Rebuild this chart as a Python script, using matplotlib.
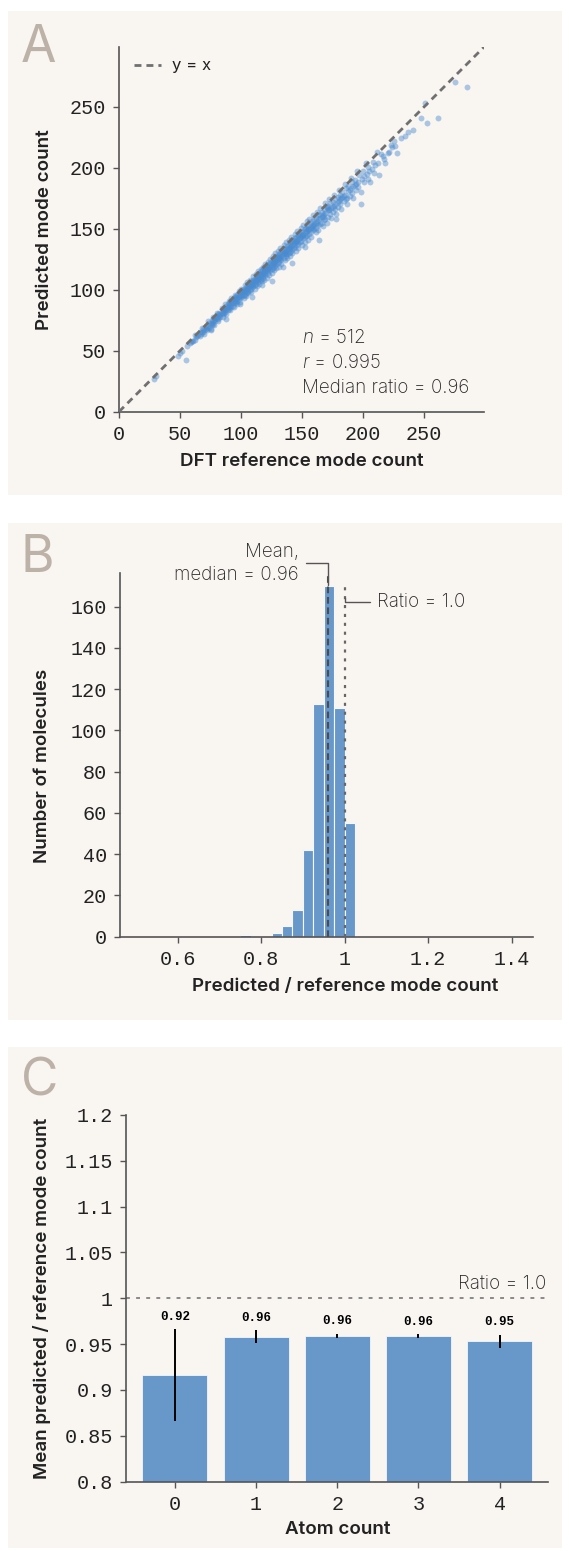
import matplotlib
matplotlib.use("Agg")
import matplotlib.pyplot as plt
from matplotlib.patches import Rectangle
from matplotlib.lines import Line2D

# ---------------------------------------------------------------- data
# Panel A: DFT reference vs predicted vibrational mode counts (one pair per molecule)
ref_modes = (
    [29, 30, 48, 50, 52, 55, 56, 58, 59, 60, 61, 62, 62, 63, 64]
    + [65, 66, 66, 67, 68, 68, 69, 69, 70, 70, 71, 71, 72, 72, 73, 73, 74, 74]
    + [75, 75, 75, 76, 76, 76, 77, 77, 77, 78, 78, 78, 79, 79, 79, 80, 80, 80,
       81, 81, 81, 82, 82, 82, 83, 83, 84, 84]
    + [85, 85, 85, 85, 86, 86, 86, 87, 87, 87, 87, 88, 88, 88, 89, 89, 89, 89,
       90, 90, 90, 90, 91, 91, 91, 92, 92, 92, 92, 93, 93, 93, 94, 94, 94]
    + [95] * 4 + [96] * 4 + [97] * 4 + [98] * 4 + [99] * 4
    + [100] * 4 + [101] * 4 + [102] * 4 + [103] * 4 + [104] * 4
    + [105] * 5 + [106] * 4 + [107] * 5 + [108] * 4 + [109] * 5
    + [110] * 5 + [111] * 4 + [112] * 5 + [113] * 4 + [114] * 5
    + [115] * 5 + [116] * 5 + [117] * 5 + [118] * 5 + [119] * 5
    + [120] * 5 + [121] * 5 + [122] * 5 + [123] * 4 + [124] * 4
    + [125] * 5 + [126] * 5 + [127] * 5 + [128] * 5 + [129] * 5
    + [130] * 5 + [131] * 5 + [132] * 5 + [133] * 4 + [134] * 3
    + [135] * 5 + [136] * 4 + [137] * 5 + [138] * 4 + [139] * 5
    + [140] * 5 + [141] * 4 + [142] * 5 + [143] * 4 + [144] * 4
    + [145] * 4 + [146] * 4 + [147] * 4 + [148] * 4 + [149] * 4
    + [150] * 4 + [151] * 4 + [152] * 4 + [153] * 4 + [154] * 4
    + [155] * 4 + [156] * 3 + [157] * 4 + [158] * 3 + [159] * 4
    + [160] * 3 + [161] * 4 + [162] * 3 + [163] * 3 + [164] * 3
    + [165] * 3 + [166] * 3 + [167] * 3 + [168] * 3 + [169] * 3
    + [170] * 3 + [171] * 3 + [172] * 3 + [173] * 2 + [174] * 2
    + [175] * 3 + [176] * 2 + [177] * 3 + [178] * 2 + [179] * 3
    + [180] * 2 + [181] * 3 + [182] * 2 + [183] * 2 + [184] * 2
    + [185, 185, 186, 186, 187, 187, 188, 188, 189, 189,
       190, 190, 191, 191, 192, 192, 193, 193, 194, 194]
    + [195, 196, 196, 197, 198, 198, 199, 200, 201, 201, 202, 203, 204, 204]
    + [205, 206, 207, 208, 209, 210, 211, 212, 213]
    + [215, 216, 217, 218, 220, 221, 223, 224]
    + [225, 226, 228, 231, 234, 237, 241, 247, 251, 252, 261, 275, 285]
)
pred_modes = (
    [27, 29, 46, 48, 50, 42, 54, 56, 57, 58, 58, 59, 63, 61, 62]
    + [63, 65, 62, 64, 69, 65, 65, 68, 67, 64, 68, 70, 67, 69, 74, 70, 69, 73]
    + [68, 67, 72, 75, 71, 73, 78, 74, 72, 77, 75, 71, 76, 78, 74, 77, 81, 78,
       76, 80, 74, 78, 79, 81, 78, 80, 85, 81]
    + [80, 84, 82, 78, 83, 85, 81, 84, 88, 83, 82, 87, 80, 76, 86, 88, 83, 85,
       91, 87, 84, 89, 88, 83, 87, 91, 86, 89, 93, 89, 87, 92, 86, 93, 90]
    + [94, 89, 91, 96, 92, 90, 95, 93, 88, 93, 96, 91, 94, 99, 95, 92, 98, 90, 88, 95]
    + [99, 94, 96, 101, 97, 95, 100, 98, 93, 98, 101, 96, 99, 104, 100, 96,
       102, 95, 97, 100]
    + [103, 98, 101, 106, 101, 99, 105, 102, 97, 103, 105, 100, 102, 108,
       104, 101, 106, 98, 94, 105, 107, 102, 104]
    + [111, 106, 103, 108, 105, 101, 107, 109, 104, 108, 113, 107, 105, 110,
       103, 111, 109, 112, 107, 110, 115, 109, 106]
    + [113, 111, 105, 110, 114, 109, 112, 117, 111, 108, 115, 107, 104, 113, 116,
       110, 113, 119, 114, 111, 117, 114, 108, 115, 118]
    + [112, 115, 121, 116, 113, 119, 110, 116, 117, 120, 114, 117, 123, 118, 115,
       121, 118, 112, 119, 122, 116, 119, 125]
    + [120, 117, 123, 114, 107, 121, 124, 118, 122, 128, 122, 119, 125, 123, 116,
       123, 126, 120, 124, 130, 124, 121, 127, 118, 128]
    + [125, 128, 122, 126, 132, 126, 123, 129, 127, 119, 127, 130, 124, 126, 134,
       128, 125, 131, 121, 119, 129, 132]
    + [130, 137, 129, 126, 133, 131, 124, 130, 134, 128, 132, 139, 131, 129,
       136, 126, 129, 133, 137, 130, 134, 141, 133]
    + [131, 138, 135, 128, 134, 139, 132, 136, 143, 137, 133, 140, 130, 122,
       138, 141, 134, 137, 146, 139, 135, 142]
    + [139, 132, 140, 143, 137, 140, 148, 141, 138, 145, 134, 144, 142, 146, 139, 143,
       151, 143, 140, 147]
    + [144, 137, 145, 148, 142, 145, 153, 146, 143, 150, 139, 135, 147, 151, 144, 148,
       156, 148, 145, 152]
    + [149, 141, 150, 153, 146, 150, 158, 151, 147, 155, 143, 152, 151, 156,
       149, 153, 161, 152]
    + [150, 158, 154, 147, 155, 159, 151, 156, 164, 155, 153, 161, 149, 141, 158, 162]
    + [154, 159, 167, 160, 155, 164, 161, 152, 160, 166, 157, 162, 171, 163, 158]
    + [168, 155, 167, 165, 169, 160, 165, 174, 166, 162, 171, 167, 159]
    + [168, 172, 164, 169, 178, 170, 166, 174, 162, 158, 172, 176, 168]
    + [173, 182, 174, 170, 178, 175, 166, 176, 180, 173, 177]
    + [187, 178, 174, 183, 170, 175, 181, 185, 177, 182,
       192, 183, 179, 188, 185, 175, 186, 190, 182, 187]
    + [197, 188, 184, 194, 180, 170, 191, 197, 188, 193, 204, 195, 191, 201]
    + [197, 188, 199, 205, 196, 202, 213, 204, 194]
    + [211, 210, 207, 204, 212, 213, 219, 217]
    + [222, 218, 212, 224, 226, 229, 231, 241, 253, 237, 241, 270, 266]
)
pearson_r = 0.995
median_ratio = 0.96

# Panel B: histogram of predicted / reference ratios
ratio_bin_edges = [0.75, 0.775, 0.8, 0.825, 0.85, 0.875, 0.9, 0.925,
                   0.95, 0.975, 1.0, 1.025]
ratio_counts = [1, 0, 0, 2, 5, 13, 42, 113, 170, 111, 55]
ratio_mean = 0.96

# Panel C: mean ratio by atom count, with error bars
atom_counts = [0, 1, 2, 3, 4]
mean_ratio = [0.916, 0.958, 0.959, 0.959, 0.953]
ratio_err = [0.050, 0.007, 0.0025, 0.002, 0.0073]

# ---------------------------------------------------------------- style
SANS = ["Inter", "DejaVu Sans"]
MONO = ["Liberation Mono", "DejaVu Sans Mono"]
PANEL_BG = "#f9f5f1"
LETTER = "#bdb2a7"
BLUE = "#6897ca"
DOT = "#4a8bd0"
SPINE = "#555555"
INK = "#222222"

plt.rcParams.update({
    "font.family": SANS,
    "mathtext.fontset": "custom",
    "mathtext.it": "Inter:italic:light",
    "mathtext.rm": "Inter:light",
    "axes.edgecolor": SPINE,
    "axes.linewidth": 1.2,
    "xtick.color": SPINE,
    "ytick.color": SPINE,
    "xtick.labelcolor": INK,
    "ytick.labelcolor": INK,
    "xtick.major.size": 4.5,
    "ytick.major.size": 4.5,
    "xtick.major.width": 1.0,
    "ytick.major.width": 1.0,
    "xtick.major.pad": 5,
    "ytick.major.pad": 5,
})

W, H = 570, 1551
fig = plt.figure(figsize=(W / 100, H / 100), dpi=100, facecolor="white")


def box(x0, y0, x1, y1):
    """Figure-fraction rectangle from pixel corners (top-left origin)."""
    return [x0 / W, 1 - y1 / H, (x1 - x0) / W, (y1 - y0) / H]


for top, bottom in [(11, 495), (523, 1020), (1047, 1548)]:
    fig.patches.append(Rectangle((8 / W, 1 - bottom / H), 554 / W, (bottom - top) / H,
                                 transform=fig.transFigure, facecolor=PANEL_BG,
                                 edgecolor="none", zorder=-5))

for letter, px, py in [("A", 21, 62), ("B", 21, 572), ("C", 21, 1096)]:
    fig.text(px / W, 1 - py / H, letter, fontsize=37, color=LETTER,
             family=SANS, fontweight="normal", ha="left", va="baseline", zorder=-4)


def style_axes(ax):
    ax.set_facecolor("none")
    for s in ("top", "right"):
        ax.spines[s].set_visible(False)
    for lab in ax.get_xticklabels() + ax.get_yticklabels():
        lab.set_family(MONO)
        lab.set_fontsize(14.5)


label_kw = dict(fontsize=13.5, fontweight="semibold", color=INK, family=SANS)
note_kw = dict(fontsize=13.5, fontweight="light", color="#262626", family=SANS)

# ---------------------------------------------------------------- panel A
axA = fig.add_axes(box(119, 47, 484, 411.7))
lim = 299
axA.plot([0, lim], [0, lim], color="#707070", lw=2.0, dashes=(2.5, 1.8), zorder=3)
axA.scatter(ref_modes, pred_modes, s=18, color=DOT, alpha=0.45, linewidths=0, zorder=2)
axA.set_xlim(0, lim)
axA.set_ylim(0, lim)
axA.set_xticks([0, 50, 100, 150, 200, 250])
axA.set_yticks([0, 50, 100, 150, 200, 250])
style_axes(axA)
axA.set_xlabel("DFT reference mode count", **label_kw)
axA.set_ylabel("Predicted mode count", **label_kw)
axA.xaxis.label.set_va("center")
axA.yaxis.label.set_va("center")
axA.xaxis.set_label_coords(0.5, (411.7 - 462) / 364.7)
axA.yaxis.set_label_coords((45 - 119) / 365, 0.5)
handle = Line2D([], [], color="#707070", lw=2.0, dashes=(2.5, 1.8))
leg = axA.legend([handle], ["y = x"], loc="upper left", frameon=False,
                 bbox_to_anchor=(0.0, 1.01), handlelength=1.6, handletextpad=0.7,
                 prop={"family": SANS, "size": 12})
for t in leg.get_texts():
    t.set_color(INK)
n_pts = len(ref_modes)
stats_lines = [f"$n$ = {n_pts}", f"$r$ = {pearson_r:.3f}", f"Median ratio = {median_ratio:.2f}"]
for i, line in enumerate(stats_lines):
    axA.text(0.502, (411.7 - (337.7 + 25 * i)) / 364.7, line, transform=axA.transAxes,
             ha="left", va="center", **note_kw)

# ---------------------------------------------------------------- panel B
axB = fig.add_axes(box(120, 572.7, 533, 936.7))
widths = [b - a for a, b in zip(ratio_bin_edges[:-1], ratio_bin_edges[1:])]
axB.bar(ratio_bin_edges[:-1], ratio_counts, width=widths, align="edge", color=BLUE,
        edgecolor="#f4f7fb", linewidth=0.8, zorder=2)
axB.set_xlim(0.462, 1.451)
axB.set_ylim(0, 176.5)
axB.axvline(ratio_mean, color="#4d4d4d", lw=1.5, dashes=(3.2, 1.8), zorder=3)
axB.axvline(1.0, ymax=0.971, color="#666666", lw=1.6, dashes=(1.4, 2.6), zorder=3)
axB.set_xticks([0.6, 0.8, 1.0, 1.2, 1.4])
axB.set_xticklabels(["0.6", "0.8", "1", "1.2", "1.4"])
axB.set_yticks(range(0, 161, 20))
style_axes(axB)
axB.set_xlabel("Predicted / reference mode count", **label_kw)
axB.set_ylabel("Number of molecules", **label_kw)
axB.xaxis.label.set_va("center")
axB.yaxis.label.set_va("center")
axB.xaxis.set_label_coords((345 - 120) / 413, (936.7 - 986.7) / 364)
axB.yaxis.set_label_coords((43 - 120) / 413, (936.7 - 766) / 364)
conn = dict(arrowstyle="-", color="#555555", lw=1.0, shrinkA=3, shrinkB=0,
            connectionstyle="angle,angleA=0,angleB=90,rad=0")
axB.annotate("Mean,\nmedian = 0.96", xy=(ratio_mean, max(ratio_counts) + 0.5),
             xytext=(0.89, 173.0), textcoords="data", ha="right", va="baseline",
             multialignment="right", linespacing=1.35, arrowprops=conn, **note_kw)
axB.annotate("Ratio = 1.0", xy=(1.0, 164.2), xytext=(1.078, 162.5), ha="left",
             va="center", arrowprops=conn, **note_kw)

# ---------------------------------------------------------------- panel C
axC = fig.add_axes(box(126.2, 1115, 548.4, 1481.6))
axC.bar(atom_counts, mean_ratio, width=0.8, color=BLUE, edgecolor="#f4f7fb",
        linewidth=0.6, zorder=2)
axC.errorbar(atom_counts, mean_ratio, yerr=ratio_err, fmt="none", ecolor="black",
             elinewidth=1.4, capsize=0, zorder=3)
for x, v, e in zip(atom_counts, mean_ratio, ratio_err):
    axC.annotate(f"{v:.2f}", xy=(x, v + e), xytext=(0, 4.5), textcoords="offset points",
                 ha="center", va="bottom", fontsize=9, fontweight="bold",
                 family=MONO, color="black")
axC.axhline(1.0, color="#8a8a8a", lw=1.4, dashes=(2.0, 3.2), zorder=1)
axC.text(0.995, 1.0 + 0.016, "Ratio = 1.0", transform=axC.get_yaxis_transform(),
         ha="right", va="center", **note_kw)
axC.set_xlim(-0.6, 4.6)
axC.set_ylim(0.8, 1.2)
axC.set_xticks(atom_counts)
axC.set_yticks([0.8, 0.85, 0.9, 0.95, 1.0, 1.05, 1.1, 1.15, 1.2])
axC.set_yticklabels(["0.8", "0.85", "0.9", "0.95", "1", "1.05", "1.1", "1.15", "1.2"])
style_axes(axC)
axC.set_xlabel("Atom count", **label_kw)
axC.set_ylabel("Mean predicted / reference mode count", **label_kw)
axC.xaxis.label.set_va("center")
axC.yaxis.label.set_va("center")
axC.xaxis.set_label_coords(0.5, (1481.6 - 1530) / 366.6)
axC.yaxis.set_label_coords((42 - 126.2) / 422.2, 0.5)

fig.savefig("out.png", dpi=100, facecolor="white")
